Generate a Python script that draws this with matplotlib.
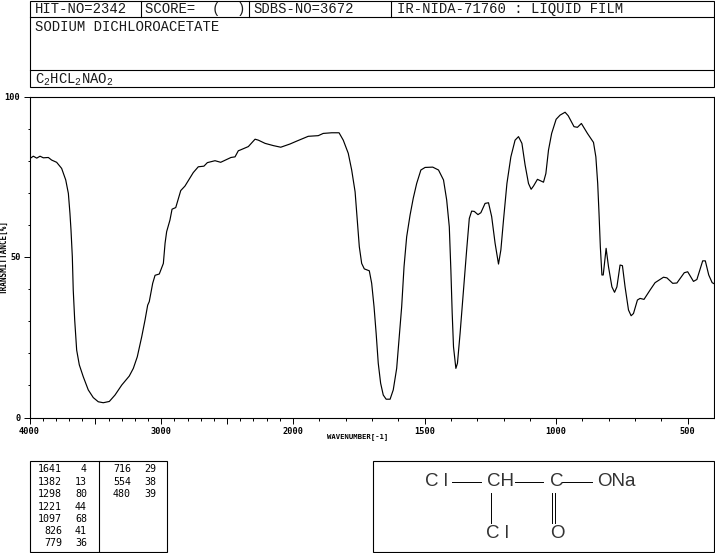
import numpy as np
import matplotlib
matplotlib.use('Agg')
import matplotlib.pyplot as plt
from matplotlib.patches import Rectangle

plt.rcParams['font.family'] = 'DejaVu Sans Mono'
plt.rcParams['mathtext.default'] = 'regular'

# spectrum
wavenumber = [3996, 3971, 3945, 3920, 3895, 3857, 3832, 3794, 3756, 3725, 3705, 3693, 3685, 3675, 3668, 3657,
              3642, 3622, 3592, 3554, 3516, 3478, 3440, 3394, 3351, 3300, 3243, 3212, 3182, 3148, 3123, 3103,
              3091, 3065, 3047, 3015, 2984, 2971, 2959, 2934, 2918, 2890, 2852, 2820, 2757, 2719, 2676, 2650,
              2592, 2549, 2471, 2440, 2415, 2402, 2339, 2288, 2263, 2212, 2149, 2093, 2023, 1986, 1942, 1904,
              1885, 1853, 1825, 1809, 1790, 1777, 1764, 1755, 1748, 1739, 1729, 1710, 1701, 1692, 1684, 1676,
              1667, 1657, 1646, 1631, 1619, 1606, 1596, 1587, 1578, 1568, 1555, 1543, 1530, 1514, 1498, 1469,
              1447, 1428, 1416, 1406, 1400, 1395, 1390, 1381, 1375, 1365, 1352, 1340, 1330, 1321, 1311, 1297,
              1286, 1270, 1257, 1245, 1232, 1219, 1210, 1200, 1187, 1172, 1156, 1143, 1130, 1118, 1105, 1095,
              1086, 1071, 1048, 1039, 1029, 1017, 1000, 985, 966, 954, 932, 919, 904, 881, 858, 849,
              842, 837, 832, 826, 821, 810, 801, 788, 778, 769, 757, 748, 738, 725, 715, 706,
              691, 681, 666, 643, 624, 592, 579, 557, 541, 513, 500, 478, 465, 443, 433, 420,
              407, 400]
transmittance = [80.7, 81.4, 80.8, 81.4, 80.9, 81.0, 80.2, 79.5, 77.6, 74.0, 69.8, 63.6, 58.4, 50.1, 39.7, 30.4,
                 21.0, 16.4, 12.7, 8.6, 6.2, 4.9, 4.6, 5.0, 7.0, 10.1, 12.9, 15.3, 18.9, 25.2, 30.4, 35.0,
                 36.1, 41.8, 44.3, 44.7, 48.0, 54.3, 57.9, 61.5, 64.9, 65.4, 70.7, 72.1, 76.3, 78.1, 78.3, 79.4,
                 80.0, 79.5, 81.0, 81.2, 83.1, 83.3, 84.4, 86.7, 86.4, 85.4, 84.7, 84.2, 85.2, 86.1, 87.6, 87.8,
                 88.5, 88.7, 88.7, 86.4, 82.3, 77.1, 70.3, 60.5, 53.2, 48.0, 46.3, 45.7, 41.8, 34.5, 26.2, 16.9,
                 10.7, 7.0, 5.7, 5.7, 8.6, 15.3, 25.2, 34.5, 47.0, 56.3, 63.1, 68.3, 72.9, 77.1, 77.9, 78.0,
                 77.1, 74.0, 67.8, 59.4, 45.9, 32.5, 22.0, 15.3, 16.9, 26.2, 39.7, 52.2, 62.0, 64.3, 64.2, 63.2,
                 63.8, 66.7, 66.9, 62.6, 54.3, 47.8, 52.2, 61.5, 72.9, 81.2, 86.4, 87.5, 85.4, 78.7, 72.9, 71.1,
                 72.1, 74.2, 73.3, 76.0, 83.3, 88.5, 92.9, 94.2, 95.1, 94.0, 90.6, 90.4, 91.6, 88.5, 85.7, 81.2,
                 72.9, 63.6, 53.2, 44.4, 44.4, 52.7, 47.0, 40.7, 39.0, 40.7, 47.5, 47.3, 40.7, 33.5, 31.7, 32.4,
                 36.6, 37.1, 36.8, 39.7, 42.0, 43.7, 43.5, 41.8, 41.9, 45.1, 45.4, 42.4, 43.0, 48.8, 48.8, 44.4,
                 42.0, 41.7]

x_major = [4000, 3500, 3000, 2500, 2000, 1500, 1000, 500]
x_labels = ['4000', '', '3000', '', '2000', '1500', '1000', '500']
x_minor = [w for w in range(500, 4000, 100)]
y_major = [0, 50, 100]
y_minor = list(range(10, 100, 10))

header = ['HIT-NO=2342', 'SCORE=  (  )', 'SDBS-NO=3672', 'IR-NIDA-71760 : LIQUID FILM']
compound = 'SODIUM DICHLOROACETATE'
formula = 'C$_2$HCL$_2$NAO$_2$'

peak_wn_1 = [1641, 1382, 1298, 1221, 1097, 826, 779]
peak_t_1 = [4, 13, 80, 44, 68, 41, 36]
peak_wn_2 = [716, 554, 480]
peak_t_2 = [29, 38, 39]

W, H = 715, 553


def forward(w):
    return np.interp(w, [400, 2000, 4000], [0, 421, 684.5])


def inverse(p):
    return np.interp(p, [0, 421, 684.5], [400, 2000, 4000])


fig = plt.figure(figsize=(W / 100, H / 100), dpi=100)
ax = fig.add_axes([29.5 / W, (H - 417.5) / H, 684.5 / W, 321 / H])
ax.set_xscale('function', functions=(forward, inverse))
ax.set_xlim(4000, 400)
ax.set_ylim(0, 100)
ax.plot(wavenumber, transmittance, color='black', lw=0.85)

ax.set_xticks(x_major)
ax.set_xticklabels(x_labels, fontsize=6.2, fontweight='bold')
ax.set_xticks(x_minor, minor=True)
ax.set_yticks(y_major)
ax.set_yticklabels([str(v) for v in y_major], fontsize=6.2, fontweight='bold')
ax.set_yticks(y_minor, minor=True)
ax.tick_params(axis='both', which='major', length=4, width=0.7, pad=2.5)
ax.tick_params(axis='both', which='minor', length=1.8, width=0.7)
for sp in ax.spines.values():
    sp.set_linewidth(0.8)

# overlay in pixel coordinates for the boxes and the text around the plot
ov = fig.add_axes([0, 0, 1, 1], facecolor='none')
ov.set_xlim(0, W)
ov.set_ylim(H, 0)
ov.axis('off')


def box(x0, y0, x1, y1):
    ov.add_patch(Rectangle((x0, y0), x1 - x0, y1 - y0, fill=False, ec='black', lw=0.8))


def vline(x, y0, y1, lw=0.8):
    ov.plot([x, x], [y0, y1], color='black', lw=lw)


def hline(y, x0, x1, lw=0.8):
    ov.plot([x0, x1], [y, y], color='black', lw=lw)


# header
head_font = dict(fontsize=10, family='Liberation Mono', va='center', ha='left', color='#1a1a1a')
box(29.5, 0.5, 714, 87)
hline(17, 29.5, 714)
hline(69.5, 29.5, 714)
for x in [140.5, 248.5, 390.5]:
    vline(x, 0.5, 17)
for x, s in zip([35, 145, 253, 397], header):
    ov.text(x, 9, s, **head_font)
ov.text(35, 27, compound, **head_font)
ov.text(35, 80, formula, **head_font)

# axis titles
ov.text(4, 257, 'TRANSMITTANCE[%]', fontsize=5.5, rotation=90, ha='center', va='center', fontweight='bold')
ov.text(358, 437, 'WAVENUMBER[-1]', fontsize=5.2, ha='center', va='center', fontweight='bold')

# peak table
box(29.5, 460.5, 166.5, 552)
vline(98.5, 460.5, 552)
row_y = [469.5, 482, 494, 506.5, 519, 531.5, 543.5]
for y, a, b in zip(row_y, peak_wn_1, peak_t_1):
    ov.text(62, y, str(a), fontsize=7.2, ha='right', va='center')
    ov.text(87, y, str(b), fontsize=7.2, ha='right', va='center')
for y, a, b in zip(row_y, peak_wn_2, peak_t_2):
    ov.text(131, y, str(a), fontsize=7.2, ha='right', va='center')
    ov.text(156, y, str(b), fontsize=7.2, ha='right', va='center')

# structure box
box(372.5, 460.5, 714, 552)
struct_font = dict(fontsize=13.5, family='Liberation Sans', va='center', ha='left', color='#333333')
ov.text(425, 482, 'C l', **struct_font)
ov.text(486.5, 482, 'CH', **struct_font)
ov.text(550, 482, 'C', **struct_font)
ov.text(597.5, 482, 'ONa', **struct_font)
ov.text(486.5, 533.5, 'C l', **struct_font)
ov.text(550, 533.5, 'O', **struct_font)
hline(482, 451.5, 481, lw=0.7)
hline(482, 515, 543, lw=0.7)
hline(482, 561.5, 591.5, lw=0.7)
vline(490.5, 493, 523, lw=0.7)
vline(551.5, 493, 523, lw=0.7)
vline(554.5, 493, 523, lw=0.7)

fig.savefig('out.png', dpi=100)
